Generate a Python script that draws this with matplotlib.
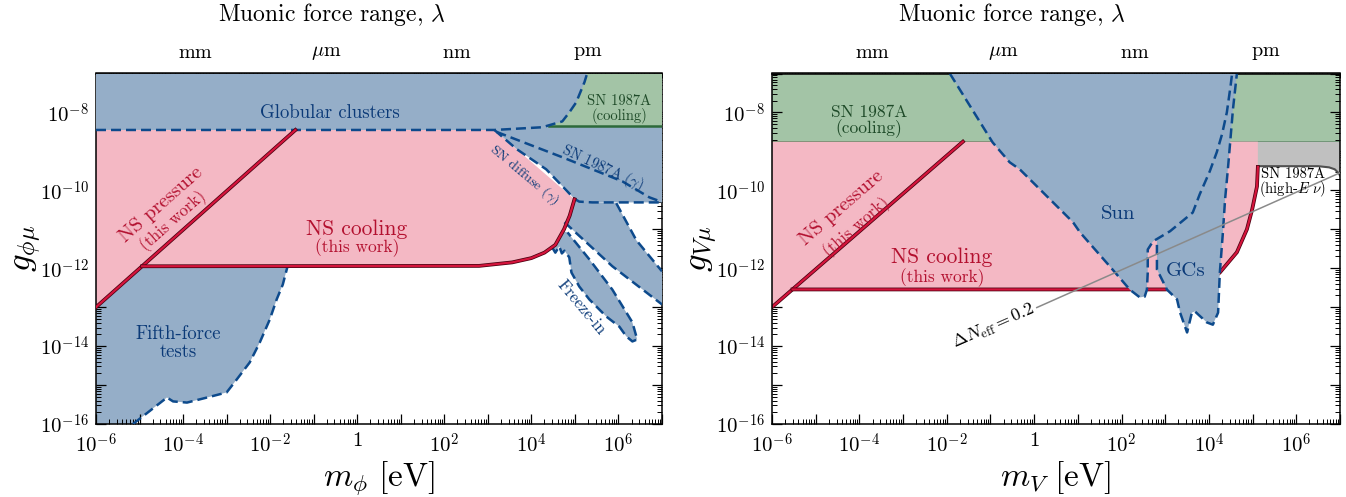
import numpy as np
import matplotlib
matplotlib.use('Agg')
import matplotlib.pyplot as plt
from matplotlib.ticker import FixedLocator, FuncFormatter, LogLocator, NullFormatter
import matplotlib.patheffects as pe

plt.rcParams['font.family'] = 'serif'
plt.rcParams['font.serif'] = ['cmr10']
plt.rcParams['mathtext.fontset'] = 'cm'
plt.rcParams['axes.formatter.use_mathtext'] = True
plt.rcParams['axes.unicode_minus'] = False

HBARC = 1.9733e-7  # eV m

# ---------------- data (log10 m [eV], log10 g) ----------------
# Left panel: scalar
fifth_lx = [-5.15, -4.37, -4.23, -3.91, -3.45, -3.00, -2.77, -2.47, -2.24, -2.01, -1.85, -1.71, -1.60]
fifth_ly = [-16.0, -15.32, -15.42, -15.45, -15.32, -15.19, -14.86, -14.42, -13.91, -13.32, -12.80, -12.42, -11.95]
press_l_lx = [-6.0, -1.42]
press_l_ly = [-13.0, -8.45]
cool_l_lx = [-4.94, 2.8, 3.56, 4.0, 4.3, 4.55, 4.75, 4.88, 4.99]
cool_l_ly = [-11.95, -11.94, -11.85, -11.74, -11.6, -11.4, -11.0, -10.65, -10.23]
glob_lx = [-6.0, 3.15, 4.25, 4.71, 4.87, 5.03, 5.22, 5.28]
glob_ly = [-8.45, -8.45, -8.38, -8.23, -8.0, -7.74, -7.22, -7.0]
sncool_l_lx = [4.40, 7.0]
sncool_l_ly = [-8.35, -8.35]
diff_lx = [3.15, 3.66, 4.34, 4.99]
diff_ly = [-8.45, -8.94, -9.46, -10.22]
hor_lx = [4.99, 5.1, 5.4, 7.0]
hor_ly = [-10.22, -10.29, -10.31, -10.31]
sngam_lx = [3.2, 4.71, 6.09, 6.71, 7.0]
sngam_ly = [-8.50, -9.15, -9.77, -10.18, -10.30]
ra_lx = [5.95, 6.41, 7.0]
ra_ly = [-10.33, -11.28, -12.08]
rb_lx = [4.76, 5.86, 7.0]
rb_ly = [-10.82, -11.95, -12.93]
fz_lx = [4.48, 4.55, 4.64, 4.70, 4.76, 4.87, 4.92, 5.10, 5.33, 5.72, 6.02, 6.18, 6.32, 6.43, 6.32, 5.86, 5.33, 4.83, 4.72]
fz_ly = [-11.47, -11.60, -11.44, -11.62, -11.55, -11.72, -12.11, -12.47, -12.80, -13.24, -13.50, -13.75, -13.88, -13.83, -13.39, -12.55, -11.77, -11.08, -11.05]

# Right panel: vector
sncool_r_ly = -8.75
press_r_lx = [-6.0, -1.63]
press_r_ly = [-13.0, -8.75]
cool_r_lx = [-5.53, 3.0, 3.6, 4.0, 4.25, 4.64, 4.87, 4.99, 5.10, 5.12]
cool_r_ly = [-12.545, -12.545, -12.50, -12.35, -12.11, -11.59, -11.00, -10.49, -9.90, -9.40]
gray_lx = [4.40, 6.5, 6.75, 6.88, 6.97, 7.0]
gray_ly = [-9.38, -9.38, -9.41, -9.46, -9.56, -9.62]
sun_lx = [-1.93, -0.95, -0.56, -0.33, 0.20, 0.89, 1.05, 1.73, 2.19, 2.42, 2.53, 2.58, 2.60, 2.60, 2.72,
          3.11, 3.63, 3.79, 4.02, 4.18, 4.30, 4.41, 4.50, 4.53]
sun_ly = [-7.0, -8.77, -9.28, -9.46, -10.05, -10.82, -11.08, -11.95, -12.55, -12.75, -12.73, -12.55, -12.11,
          -11.52, -11.31, -11.05, -10.57, -10.10, -9.51, -9.02, -8.56, -8.00, -7.28, -7.0]
gc_lx = [2.81, 2.81, 3.04, 3.27, 3.34, 3.50, 3.61, 3.68, 3.95, 4.09, 4.21, 4.25, 4.32, 4.37, 4.44, 4.55, 4.64]
gc_ly = [-11.40, -12.03, -12.55, -12.80, -13.14, -13.65, -13.14, -13.11, -13.39, -13.45, -13.14, -12.11,
         -11.08, -10.23, -9.38, -7.92, -7.0]
dneff_lx = [0.06, 7.0]
dneff_ly = [-13.01, -9.55]

top_names = {-3: r'$\mathrm{mm}$', -6: r'$\mu\mathrm{m}$', -9: r'$\mathrm{nm}$', -12: r'$\mathrm{pm}$'}

# ---------------- styles ----------------
BLUE_F = '#95aec8'
BLUE_L = '#0d4a8c'
BLUE_T = '#0b3a78'
PINK_F = '#f4b8c4'
RED_L = '#d5143c'
RED_T = '#b3102f'
GREEN_F = '#a3c4a6'
GREEN_L = '#2d6a3a'
GREEN_T = '#1e4a28'
GRAY_F = '#c0c0c0'
GRAY_L = '#505050'

XMIN, XMAX, YMIN, YMAX = 1e-6, 1e7, 1e-16, 1e-7


def P(lx):
    return 10.0 ** np.asarray(lx, float)


def fill(ax, lx, ly, color, z):
    ax.fill(P(lx), P(ly), facecolor=color, edgecolor='none', zorder=z)


def dashed(ax, lx, ly, z=5):
    ax.plot(P(lx), P(ly), color=BLUE_L, lw=1.8, dashes=(4, 2), zorder=z,
            dash_capstyle='butt')


def redline(ax, lx, ly, z=7):
    ax.plot(P(lx), P(ly), color=RED_L, lw=1.6, zorder=z,
            path_effects=[pe.Stroke(linewidth=2.7, foreground='#4a0010'), pe.Normal()])


def label(ax, lx, ly, s, color, size, rot=0, ls=1.0):
    ax.text(10 ** lx, 10 ** ly, s, color=color, fontsize=size, rotation=rot,
            ha='center', va='center', zorder=10, linespacing=ls,
            rotation_mode='anchor')


def m2lam(m):
    m = np.asarray(m, float)
    with np.errstate(divide='ignore', invalid='ignore'):
        return HBARC / np.where(m <= 0, 1e-300, m)


def style_axes(ax, ylab, xlab):
    ax.set_xscale('log')
    ax.set_yscale('log')
    ax.set_xlim(XMIN, XMAX)
    ax.set_ylim(YMIN, YMAX)
    ax.xaxis.set_major_locator(FixedLocator(10.0 ** np.arange(-6, 8)))
    ax.xaxis.set_minor_locator(LogLocator(base=10, subs=np.arange(2, 10), numticks=100))
    ax.yaxis.set_major_locator(FixedLocator(10.0 ** np.arange(-16, -6)))
    ax.yaxis.set_minor_locator(LogLocator(base=10, subs=np.arange(2, 10), numticks=100))

    def xf(v, pos):
        e = int(round(np.log10(v)))
        if e % 2:
            return ''
        if e == 0:
            return '$1$'
        return r'$10^{%d}$' % e

    def yf(v, pos):
        e = int(round(np.log10(v)))
        if e % 2:
            return ''
        return r'$10^{%d}$' % e
    ax.xaxis.set_major_formatter(FuncFormatter(xf))
    ax.yaxis.set_major_formatter(FuncFormatter(yf))
    ax.xaxis.set_minor_formatter(NullFormatter())
    ax.yaxis.set_minor_formatter(NullFormatter())
    ax.tick_params(which='both', direction='in', top=False, right=True, labelsize=15)
    ax.tick_params(axis='x', which='both', pad=6)
    ax.tick_params(axis='y', which='both', pad=5)
    ax.tick_params(which='major', length=7, width=0.9)
    ax.tick_params(which='minor', length=3.5, width=0.7)
    for s in ax.spines.values():
        s.set_linewidth(1.1)
    ax.set_ylabel(ylab, fontsize=25)
    ax.yaxis.set_label_coords(-0.092, 0.5)
    ax.set_xlabel(xlab, fontsize=24)
    ax.xaxis.set_label_coords(0.5, -0.10)

    sec = ax.secondary_xaxis('top', functions=(m2lam, m2lam))
    sec.xaxis.set_major_locator(FixedLocator(10.0 ** np.arange(-15, 3)))
    sec.xaxis.set_minor_locator(LogLocator(base=10, subs=np.arange(2, 10), numticks=100))

    def tf(v, pos):
        e = int(round(np.log10(v)))
        return top_names.get(e, '')
    sec.xaxis.set_major_formatter(FuncFormatter(tf))
    sec.xaxis.set_minor_formatter(NullFormatter())
    sec.tick_params(which='both', direction='in', labelsize=14.5, pad=8)
    sec.tick_params(which='major', length=7, width=0.9)
    sec.tick_params(which='minor', length=3.5, width=0.7)
    sec.spines['top'].set_linewidth(1.1)
    return sec


fig = plt.figure(figsize=(13.46, 4.97), dpi=100)
axL = fig.add_axes([96 / 1346, 73 / 497, 566 / 1346, 350.5 / 497])
axR = fig.add_axes([772 / 1346, 73 / 497, 568 / 1346, 350.5 / 497])

# ================= LEFT =================
ax = axL
fill(ax, [-6.0] + fifth_lx + [-1.60, -6.0], [-16.0] + fifth_ly + [-11.0, -11.0], BLUE_F, 1)
fill(ax, press_l_lx[:1] + cool_l_lx + [3.15, -6.0],
     press_l_ly[:1] + cool_l_ly + [-8.45, -8.45], PINK_F, 2)
fill(ax, diff_lx + hor_lx[1:] + [7.0, 3.15], diff_ly + hor_ly[1:] + [-7.0, -7.0], BLUE_F, 3)
fill(ax, [4.99, 5.10] + ra_lx + rb_lx[::-1] + [4.88],
     [-10.23, -10.29] + ra_ly + rb_ly[::-1] + [-10.65], BLUE_F, 3)
fill(ax, fz_lx, fz_ly, BLUE_F, 3)
fill(ax, [4.3, 7.0, 7.0, 4.3], [-8.35, -8.35, -7.0, -7.0], GREEN_F, 3.5)
ax.plot(P(sncool_l_lx), P(sncool_l_ly), color=GREEN_L, lw=1.8, zorder=3.6)
fill(ax, glob_lx + [-6.0], glob_ly + [-7.0], BLUE_F, 4)
dashed(ax, glob_lx, glob_ly)
dashed(ax, diff_lx, diff_ly)
dashed(ax, hor_lx, hor_ly)
dashed(ax, sngam_lx, sngam_ly)
dashed(ax, ra_lx, ra_ly)
dashed(ax, rb_lx, rb_ly)
dashed(ax, fz_lx[:-1], fz_ly[:-1])
dashed(ax, fifth_lx, fifth_ly)
redline(ax, press_l_lx, press_l_ly)
redline(ax, cool_l_lx, cool_l_ly)

label(ax, -0.63, -8.02, 'Globular clusters', BLUE_T, 13.5)
label(ax, -4.50, -10.36, 'NS pressure', RED_T, 14.5, rot=41.5)
label(ax, -4.22, -10.78, '(this work)', RED_T, 12, rot=41.5)
label(ax, -0.01, -11.0, 'NS cooling', RED_T, 15.5)
label(ax, -0.01, -11.47, '(this work)', RED_T, 12.5)
label(ax, -4.12, -13.91, 'Fifth-force\ntests', BLUE_T, 13.5)
label(ax, 6.02, -7.92, 'SN 1987A\n(cooling)', GREEN_T, 10.5, ls=0.95)
label(ax, 5.63, -9.41, r'SN 1987A $(\gamma)$', BLUE_T, 10.5, rot=-25)
label(ax, 3.84, -9.60, r'SN diffuse $(\gamma)$', BLUE_T, 10, rot=-40)
label(ax, 5.15, -13.01, 'Freeze-in', BLUE_T, 12, rot=-50)

style_axes(ax, r'$g_{\phi\mu}$', r'$m_\phi\ [\mathrm{eV}]$')

# ================= RIGHT =================
ax = axR
fill(ax, [-6.0, 7.0, 7.0, -6.0], [sncool_r_ly, sncool_r_ly, -7.0, -7.0], GREEN_F, 1)
ax.plot(P([-6.0, 7.0]), P([sncool_r_ly, sncool_r_ly]), color=GREEN_L, lw=1.8, zorder=1.5)
fill(ax, gray_lx + [7.0, 4.40], gray_ly + [sncool_r_ly, sncool_r_ly], GRAY_F, 1.6)
ax.plot(P(gray_lx), P(gray_ly), color=GRAY_L, lw=1.5, zorder=1.7)
fill(ax, press_r_lx[:1] + cool_r_lx + [5.12, -6.0],
     press_r_ly[:1] + cool_r_ly + [sncool_r_ly, sncool_r_ly], PINK_F, 2)
redline(ax, press_r_lx, press_r_ly, z=2.5)
redline(ax, cool_r_lx, cool_r_ly, z=2.5)
fill(ax, sun_lx, sun_ly, BLUE_F, 3)
fill(ax, gc_lx + [3.0, 2.81], gc_ly + [-7.0, -11.0], BLUE_F, 3)
dashed(ax, sun_lx, sun_ly)
dashed(ax, gc_lx, gc_ly)
ax.plot(P(dneff_lx), P(dneff_ly), color='#8a8a8a', lw=1.1, zorder=6)

label(ax, -3.78, -8.23, 'SN 1987A\n(cooling)', GREEN_T, 12.5, ls=0.95)
label(ax, -4.40, -10.45, 'NS pressure', RED_T, 14.5, rot=41)
label(ax, -4.07, -10.95, '(this work)', RED_T, 12, rot=41)
label(ax, -2.11, -11.72, 'NS cooling', RED_T, 15.5)
label(ax, -2.11, -12.24, '(this work)', RED_T, 12.5)
label(ax, 1.92, -10.61, 'Sun', BLUE_T, 15)
label(ax, 3.47, -12.08, 'GCs', BLUE_T, 15)
label(ax, 5.92, -9.82, 'SN 1987A\n' + r'(high-$E$ $\nu$)', 'black', 10.5, ls=0.9)
label(ax, -0.92, -13.49, r'$\Delta N_{\rm eff} = 0.2$', 'black', 13, rot=23.7)

style_axes(ax, r'$g_{V\mu}$', r'$m_V\ [\mathrm{eV}]$')

fig.text(332 / 1346, 1 - 14 / 497, r'Muonic force range, $\lambda$', ha='center', va='center', fontsize=17)
fig.text(1012 / 1346, 1 - 14 / 497, r'Muonic force range, $\lambda$', ha='center', va='center', fontsize=17)

fig.savefig('out.png', dpi=100)
